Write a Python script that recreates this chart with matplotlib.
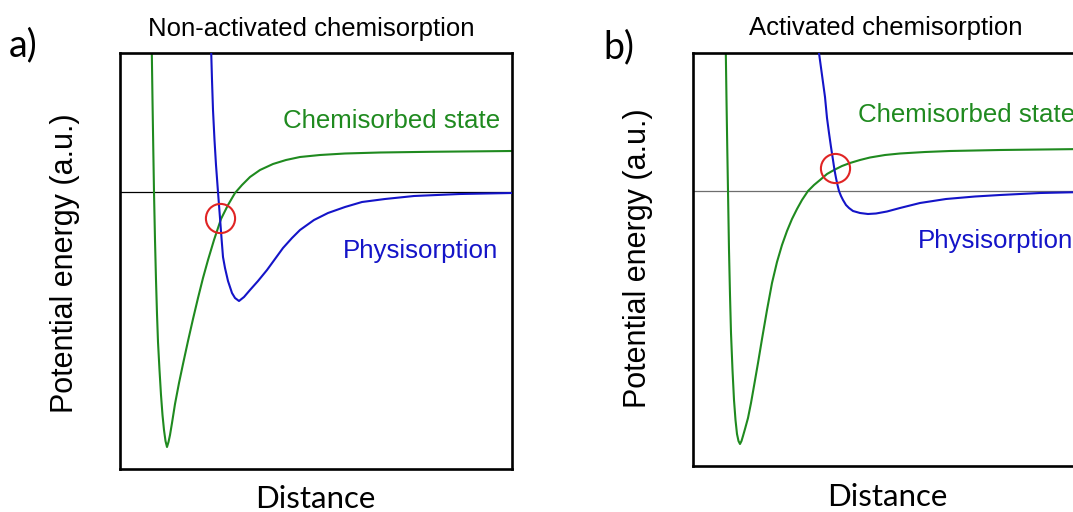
import matplotlib
matplotlib.use("Agg")
import matplotlib.pyplot as plt

W, H = 1073, 512

# curves, arbitrary units:
# x = distance from the left frame, y = energy above the dissociation level
chem_a_x = [31.7, 32.5, 33.3, 34, 35, 36, 37, 38, 39.5, 41, 42.5, 44, 45.5, 47, 48.5, 50, 52, 55, 59, 63,
            68, 73, 78, 83, 88, 94, 101, 108, 115, 122, 130, 140, 153, 166, 180, 200, 225, 260, 310, 392]
chem_a_y = [147, 92, 42, 0, -48, -88, -122, -150, -178, -203, -223, -238, -249, -255, -250, -243, -231, -212, -191, -172,
            -149, -127, -106, -86, -68, -48, -27, -13, -1, 7, 15, 22, 28, 32, 35, 37, 38.5, 39.5, 40.2, 41]
phys_a_x = [91, 92, 93, 94.5, 96, 98, 100, 101.5, 103, 105, 108, 112, 115, 119, 124, 130, 138, 147, 155, 163,
            172, 180, 194, 208, 225, 242, 265, 294, 340, 392]
phys_a_y = [147, 112, 82, 52, 27, 0, -26, -46, -65, -76, -89, -101, -106, -109, -105, -98, -89, -78, -67, -56,
            -46, -38, -28, -21, -15, -10, -7, -4, -2, -1]
cross_a = (100, -26)

chem_b_x = [32.7, 33.5, 34.3, 35, 36, 37, 38, 39.5, 41, 42.5, 44, 45.5, 47, 48.5, 50, 52, 55, 58, 61, 65, 69, 74,
            79, 84, 89, 94, 99, 104, 109, 115, 121, 127, 134, 141, 149, 157, 167, 177, 192, 207, 232, 257, 307, 392]
chem_b_y = [146, 91, 41, 0, -59, -104, -142, -179, -209, -229, -243, -250, -253, -250, -245, -238, -227, -212, -195, -172, -148, -119,
            -92, -71, -54, -40, -28, -18, -9, 0, 6, 11, 17, 21, 25, 28, 31, 33.5, 36, 37.5, 39, 40, 41, 42]
phys_b_x = [125.5, 126, 129, 132, 134, 136, 138, 140, 141.5, 143, 144.5, 146, 148, 150, 153, 156, 160, 167, 175, 183,
            194, 207, 227, 253, 282, 307, 347, 392]
phys_b_y = [151, 138, 116, 94, 73, 58, 44, 31, 21, 13, 6, 0, -5, -9, -14, -17, -20, -22, -23, -22.5,
            -20.5, -17, -12, -8, -5.5, -4, -2, -1]
cross_b = (142, 23)

GREEN = "#1f8a1f"
BLUE = "#1414c8"
RED = "#e02424"
ARIAL = ["Liberation Sans", "Arial", "DejaVu Sans"]
CALIBRI = ["Lato", "DejaVu Sans"]


def fx(x):
    return x / W


def fy(y):
    return 1 - y / H


def panel(left, top, bottom, zero_px, chem_x, chem_y, phys_x, phys_y, cross, zero_color):
    ax = plt.gcf().add_axes([fx(left), fy(bottom), 392 / W, (bottom - top) / H])
    ax.axhline(0, color=zero_color, lw=0.9, zorder=1)
    ax.plot(chem_x, chem_y, color=GREEN, lw=1.5, zorder=2, solid_joinstyle="round")
    ax.plot(phys_x, phys_y, color=BLUE, lw=1.5, zorder=3, solid_joinstyle="round")
    ax.plot([cross[0]], [cross[1]], marker="o", ms=21, mfc="none", mec=RED, mew=1.5, zorder=4)
    ax.set_xlim(0, 392)
    ax.set_ylim(zero_px - bottom, zero_px - top)
    ax.set_xticks([])
    ax.set_yticks([])
    for s in ax.spines.values():
        s.set_linewidth(1.9)
    return ax


def main() -> None:
    fig = plt.figure(figsize=(W / 100, H / 100), dpi=100)

    panel(120, 53, 469, 192, chem_a_x, chem_a_y, phys_a_x, phys_a_y, cross_a, "black")
    panel(693, 53, 466, 191, chem_b_x, chem_b_y, phys_b_x, phys_b_y, cross_b, "#6e6e6e")

    fig.text(fx(311), fy(36), "Non-activated chemisorption", ha="center", va="baseline", fontsize=18.5, family=ARIAL)
    fig.text(fx(886), fy(35), "Activated chemisorption", ha="center", va="baseline", fontsize=18.5, family=ARIAL)
    fig.text(fx(9), fy(56), "a)", ha="left", va="baseline", fontsize=27, family=CALIBRI)
    fig.text(fx(603), fy(58), "b)", ha="left", va="baseline", fontsize=27, family=CALIBRI)

    fig.text(fx(65), fy(263), "Potential energy (a.u.)", ha="center", va="center", rotation=90, fontsize=22, family=ARIAL)
    fig.text(fx(638), fy(258), "Potential energy (a.u.)", ha="center", va="center", rotation=90, fontsize=22, family=ARIAL)
    fig.text(fx(315), fy(508), "Distance", ha="center", va="baseline", fontsize=22.5, family=CALIBRI)
    fig.text(fx(887), fy(506), "Distance", ha="center", va="baseline", fontsize=22.5, family=CALIBRI)

    fig.text(fx(500), fy(128), "Chemisorbed state", ha="right", va="baseline", fontsize=18.6, family=ARIAL, color=GREEN)
    fig.text(fx(498), fy(258), "Physisorption", ha="right", va="baseline", fontsize=18.6, family=ARIAL, color=BLUE)
    fig.text(fx(858), fy(122), "Chemisorbed state", ha="left", va="baseline", fontsize=18.6, family=ARIAL, color=GREEN)
    fig.text(fx(918), fy(248), "Physisorption", ha="left", va="baseline", fontsize=18.6, family=ARIAL, color=BLUE)

    fig.savefig("out.png", dpi=100, facecolor="white")


main()
